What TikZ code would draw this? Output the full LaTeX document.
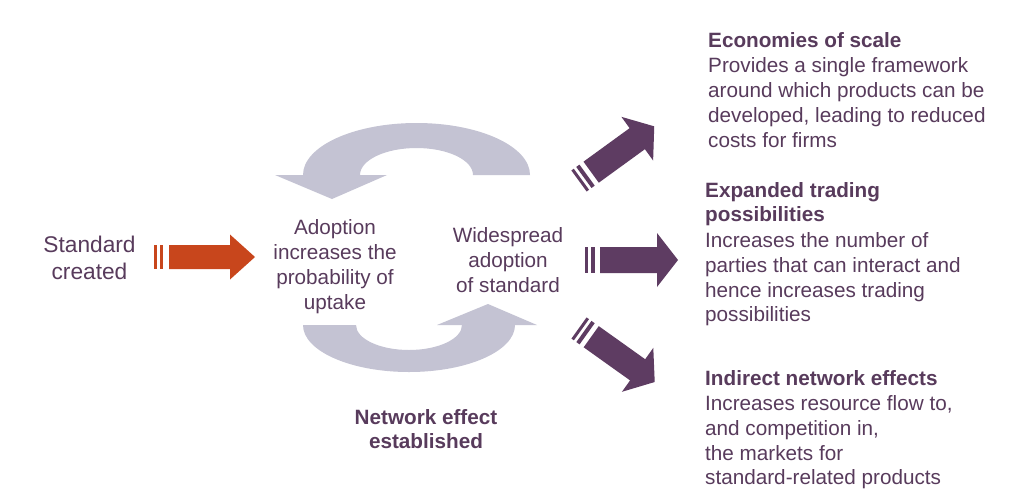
\documentclass[tikz,border=0pt]{standalone}
\usepackage{fontspec}
\setmainfont{Liberation Sans}
\definecolor{txt}{HTML}{583B5C}
\definecolor{plum}{HTML}{5E3C62}
\definecolor{rust}{HTML}{C8461C}
\definecolor{greyarc}{HTML}{C4C3D3}
% #1 colour, #2 end of second stripe, #3 head start, #4 tip, #5 half width, #6 head half width
\newcommand\sarrow[6]{%
  \fill[#1] (0,-#5) rectangle (3,#5);
  \fill[#1] (6,-#5) rectangle (#2,#5);
  \fill[#1] (15,-#5) -- (#3,-#5) -- (#3,-#6) -- (#4,0) -- (#3,#6) -- (#3,#5) -- (15,#5) -- cycle;}
\begin{document}
\begin{tikzpicture}[x=1pt,y=1pt,
  lbl/.style={inner sep=0pt, text=txt, font=\fontsize{20.7}{25}\selectfont},
  bl/.style={inner sep=0pt, text=txt, font=\fontsize{20.7}{25}\selectfont\bfseries},
  big/.style={inner sep=0pt, text=txt, font=\fontsize{22.7}{27}\selectfont}]
\fill[white] (0,0) rectangle (1024,-496);
\useasboundingbox (0,0) rectangle (1024,-496);

% grey curved arrows
\fill[greyarc] (530,-175) arc[start angle=0,end angle=180,x radius=113.5,y radius=52]
  -- (275,-175) -- (332,-199) -- (387,-175) -- (360,-175)
  arc[start angle=180,end angle=0,x radius=56.5,y radius=27] -- cycle;
\fill[greyarc] (303,-325) arc[start angle=180,end angle=360,x radius=106,y radius=47]
  -- (537,-325) -- (488,-304) -- (437,-325) -- (462,-325)
  arc[start angle=360,end angle=180,x radius=53,y radius=25] -- cycle;

% striped arrows
\begin{scope}[shift={(154,-257)}] \sarrow{rust}{9}{76}{101}{12}{22.5} \end{scope}
\begin{scope}[shift={(585,-260)}] \sarrow{plum}{10}{72}{93}{13}{27} \end{scope}
\begin{scope}[shift={(579,-181)},rotate=36] \sarrow{plum}{10}{72}{93}{13}{27} \end{scope}
\begin{scope}[shift={(579,-328)},rotate=-35.5] \sarrow{plum}{10}{72}{93}{13}{27} \end{scope}

% left text
\node[big,anchor=base] (s1) at (89.5,-252) {Standard};
\node[big,anchor=base] (s2) at (89.5,-279) {created};

% middle texts
\node[lbl,anchor=base] (a1) at (335,-234) {Adoption};
\node[lbl,anchor=base] (a2) at (335,-259) {increases the};
\node[lbl,anchor=base] (a3) at (335,-284) {probability of};
\node[lbl,anchor=base] (a4) at (335,-309) {uptake};

\node[lbl,anchor=base] (w1) at (508,-242) {Widespread};
\node[lbl,anchor=base] (w2) at (508,-267) {adoption};
\node[lbl,anchor=base] (w3) at (508,-292) {of standard};

\node[bl,anchor=base] (n1) at (426,-424) {Network effect};
\node[bl,anchor=base] (n2) at (426,-448) {established};

% right texts
\node[bl,anchor=base west] (e1) at (708,-47) {Economies of scale};
\node[lbl,anchor=base west] (e2) at (708,-72) {Provides a single framework};
\node[lbl,anchor=base west] (e3) at (708,-97) {around which products can be};
\node[lbl,anchor=base west] (e4) at (708,-122) {developed, leading to reduced};
\node[lbl,anchor=base west] (e5) at (708,-147) {costs for firms};

\node[bl,anchor=base west] (t1) at (705,-197) {Expanded trading};
\node[bl,anchor=base west] (t2) at (705,-221) {possibilities};
\node[lbl,anchor=base west] (t3) at (705,-247) {Increases the number of};
\node[lbl,anchor=base west] (t4) at (705,-272) {parties that can interact and};
\node[lbl,anchor=base west] (t5) at (705,-297) {hence increases trading};
\node[lbl,anchor=base west] (t6) at (705,-321) {possibilities};

\node[bl,anchor=base west] (i1) at (705,-385) {Indirect network effects};
\node[lbl,anchor=base west] (i2) at (705,-410) {Increases resource flow to,};
\node[lbl,anchor=base west] (i3) at (705,-435) {and competition in,};
\node[lbl,anchor=base west] (i4) at (705,-460) {the markets for};
\node[lbl,anchor=base west] (i5) at (705,-484) {standard-related products};
\end{tikzpicture}
\end{document}
